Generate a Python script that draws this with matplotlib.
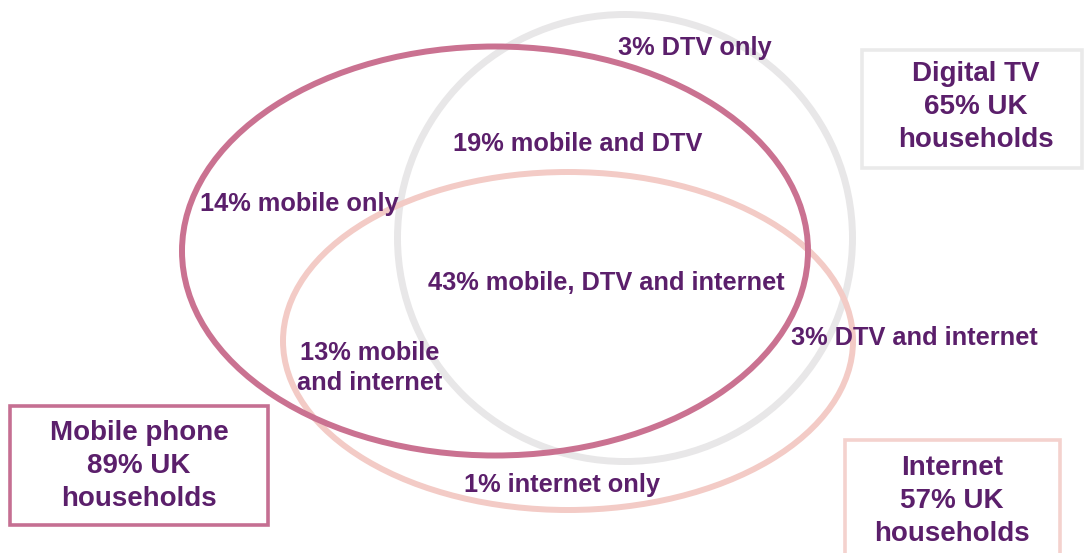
import matplotlib
matplotlib.use("Agg")
import matplotlib.pyplot as plt
from matplotlib.patches import Ellipse, Rectangle

# Household take-up of services (share of UK households, %)
set_names = ["Mobile phone", "Digital TV", "Internet"]
set_shares = [89, 65, 57]

region_labels = [
    "DTV only",
    "mobile and DTV",
    "mobile only",
    "mobile, DTV and internet",
    "DTV and internet",
    "mobile\nand internet",
    "internet only",
]
region_shares = [3, 19, 14, 43, 3, 13, 1]

TEXT = "#5b1f6b"
plt.rcParams["font.family"] = ["Liberation Sans", "DejaVu Sans"]

fig = plt.figure(figsize=(10.86, 5.53), dpi=100)
ax = fig.add_axes([0, 0, 1, 1])
ax.set_xlim(0, 1086)
ax.set_ylim(553, 0)
ax.axis("off")

# Set outlines: (centre x, centre y, width, height, colour, line width)
ellipses = {
    "Digital TV": (625, 238, 455, 447, "#e8e7e8", 5.0),
    "Internet": (568, 341, 570, 338, "#f3cbc6", 4.3),
    "Mobile phone": (495, 251, 626, 409, "#ca7291", 4.3),
}
for name in ["Digital TV", "Internet", "Mobile phone"]:
    cx, cy, w, h, col, lw = ellipses[name]
    ax.add_patch(Ellipse((cx, cy), w, h, fill=False, ec=col, lw=lw, zorder=2))

# Legend boxes for each set
boxes = {
    "Mobile phone": ((10, 406, 258, 119), "#c56f92", 2.6, (139, 466)),
    "Digital TV": ((862, 50, 220, 118), "#eaeaea", 2.6, (976, 107)),
    "Internet": ((845, 440, 215, 130), "#f4d2ce", 2.6, (952, 501)),
}
for name, share in zip(set_names, set_shares):
    (x, y, w, h), col, lw, (tx, ty) = boxes[name]
    ax.add_patch(Rectangle((x, y), w, h, fill=True, fc="white", ec=col, lw=lw, zorder=3))
    ax.text(tx, ty, f"{name}\n{share}% UK\nhouseholds", ha="center", va="center",
            fontsize=20, fontweight="bold", color=TEXT, linespacing=1.36, zorder=4)

# Region labels
region_pos = [
    (695, 48, "center"),
    (578, 144, "center"),
    (299, 204, "center"),
    (606, 283, "center"),
    (914, 338, "center"),
    (370, 368, "center"),
    (562, 485, "center"),
]
for label, share, (x, y, ha) in zip(region_labels, region_shares, region_pos):
    ax.text(x, y, f"{share}% {label}", ha=ha, va="center", fontsize=18.3,
            fontweight="bold", color=TEXT, linespacing=1.3, zorder=5)

fig.savefig("out.png", dpi=100, facecolor="white")
